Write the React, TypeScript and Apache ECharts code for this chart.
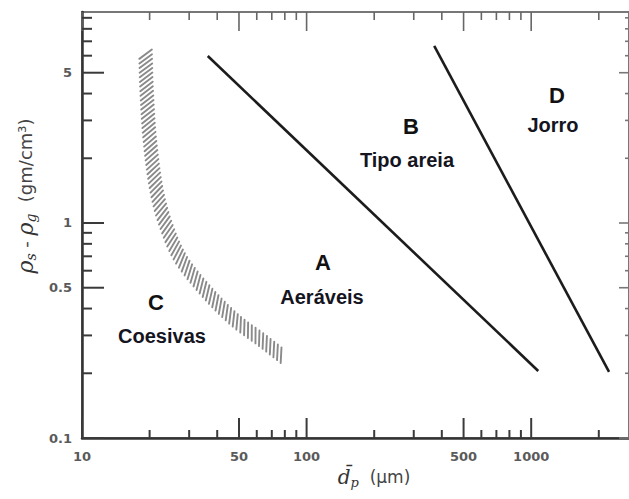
import React, { useEffect, useRef } from "react";
import * as echarts from "echarts";

// ---- data ----
const xMajorTicks = [10, 50, 100, 500, 1000];
const xTickLabels = ["10", "50", "100", "500", "1000"];
const xMinorTicks = [20, 30, 40, 60, 70, 80, 90, 200, 300, 400, 600, 700, 800, 900, 2000];
const yMajorTicks = [0.1, 0.5, 1, 5];
const yTickLabels = ["0.1", "0.5", "1", "5"];
const yMinorTicks = [0.2, 0.3, 0.4, 0.6, 0.7, 0.8, 0.9, 2, 3, 4, 6, 7, 8, 9];

// boundary A/B (straight line)
const lineAB = [
  [36.3, 5.98],
  [1075, 0.205],
];
// boundary B/D (straight line)
const lineBD = [
  [370, 6.66],
  [2222, 0.203],
];
// hatched boundary C/A (curved band)
const bandCA = [
  [19.19, 6.16],
  [19.4, 4.16],
  [20.05, 2.43],
  [21.48, 1.42],
  [23.79, 0.961],
  [27.74, 0.673],
  [36.4, 0.471],
  [47.9, 0.354],
  [62.9, 0.286],
  [78.5, 0.239],
];

const regionLetters = ["A", "B", "C", "D"];
const regionNames = ["Aeráveis", "Tipo areia", "Coesivas", "Jorro"];

// ---- layout ----
const X_MIN = 10;
const X_MAX = 2726;
const Y_MIN = 0.1;
const Y_MAX = 9.58;
const letterPos = [
  [323, 262],
  [411, 126],
  [156, 302],
  [557, 95],
];
const namePos = [
  [322, 297],
  [407, 160],
  [162, 336],
  [553, 125],
];

const SANS = "'Liberation Sans', Arial, sans-serif";
const TICK_FONT = "bold 13px 'DejaVu Sans', sans-serif";

function catmull(pts: number[][], steps: number): number[][] {
  const out: number[][] = [];
  for (let i = 0; i < pts.length - 1; i++) {
    const p0 = pts[Math.max(0, i - 1)];
    const p1 = pts[i];
    const p2 = pts[i + 1];
    const p3 = pts[Math.min(pts.length - 1, i + 2)];
    for (let k = 0; k < steps; k++) {
      const t = k / steps;
      const t2 = t * t;
      const t3 = t2 * t;
      const f = (a: number, b: number, c: number, d: number) =>
        0.5 * (2 * b + (-a + c) * t + (2 * a - 5 * b + 4 * c - d) * t2 + (-a + 3 * b - 3 * c + d) * t3);
      out.push([f(p0[0], p1[0], p2[0], p3[0]), f(p0[1], p1[1], p2[1], p3[1])]);
    }
  }
  out.push(pts[pts.length - 1]);
  return out;
}

export default function App() {
  const ref = useRef<HTMLDivElement>(null);

  useEffect(() => {
    if (!ref.current) return;
    const chart = echarts.init(ref.current, undefined, { renderer: "svg" });

    const xTickSeries = (values: number[], bottomLen: number, topLen: number, labels?: string[]) => ({
      type: "custom",
      coordinateSystem: "cartesian2d",
      silent: true,
      z: 5,
      data: values.map((v) => [v, 1]),
      renderItem: (params: any, api: any) => {
        const cs = params.coordSys;
        const p = api.coord([api.value(0), api.value(1)]);
        const x = p[0];
        const bottom = cs.y + cs.height;
        const top = cs.y;
        const children: any[] = [
          { type: "line", shape: { x1: x, y1: bottom, x2: x, y2: bottom - bottomLen }, style: { stroke: "#3a3a3a", lineWidth: 2 } },
          { type: "line", shape: { x1: x, y1: top, x2: x, y2: top + topLen }, style: { stroke: "#666", lineWidth: 1.6 } },
        ];
        if (labels) {
          children.push({
            type: "text",
            x: x,
            y: bottom + 18,
            style: {
              text: labels[params.dataIndex],
              font: TICK_FONT,
              fill: "#5a5a5a",
              textAlign: "center",
              textVerticalAlign: "middle",
              align: "center",
              verticalAlign: "middle",
            },
          });
        }
        return { type: "group", children };
      },
    });

    const yTickSeries = (values: number[], leftLen: number, rightLen: number, labels?: string[]) => ({
      type: "custom",
      coordinateSystem: "cartesian2d",
      silent: true,
      z: 5,
      data: values.map((v) => [100, v]),
      renderItem: (params: any, api: any) => {
        const cs = params.coordSys;
        const p = api.coord([api.value(0), api.value(1)]);
        const y = p[1];
        const left = cs.x;
        const right = cs.x + cs.width;
        const children: any[] = [
          { type: "line", shape: { x1: left, y1: y, x2: left + leftLen, y2: y }, style: { stroke: "#3a3a3a", lineWidth: 2 } },
          { type: "line", shape: { x1: right, y1: y, x2: right - rightLen, y2: y }, style: { stroke: "#777", lineWidth: 1.6 } },
        ];
        if (labels) {
          children.push({
            type: "text",
            x: left - 10,
            y: y,
            style: {
              text: labels[params.dataIndex],
              font: TICK_FONT,
              fill: "#5a5a5a",
              textAlign: "right",
              textVerticalAlign: "middle",
              align: "right",
              verticalAlign: "middle",
            },
          });
        }
        return { type: "group", children };
      },
    });

    const bandSeries = {
      type: "custom",
      coordinateSystem: "cartesian2d",
      silent: true,
      z: 3,
      data: bandCA,
      renderItem: (params: any, api: any) => {
        if (params.dataIndex !== 0) return null;
        const raw = bandCA.map((d) => api.coord(d));
        const pts = catmull(raw, 10);
        const spacing = 4.6;
        const half = 7.8;
        const ang = (35 * Math.PI) / 180;
        const c = Math.cos(ang);
        const s = Math.sin(ang);
        const children: any[] = [];
        let carry = 1;
        for (let i = 0; i < pts.length - 1; i++) {
          const [x1, y1] = pts[i];
          const [x2, y2] = pts[i + 1];
          const dx = x2 - x1;
          const dy = y2 - y1;
          const L = Math.hypot(dx, dy);
          if (L < 1e-6) continue;
          const tx = dx / L;
          const ty = dy / L;
          const nx = -ty;
          const ny = tx;
          const sx = c * nx + s * ny;
          const sy = -s * nx + c * ny;
          let d = carry;
          while (d <= L) {
            const cx = x1 + tx * d;
            const cy = y1 + ty * d;
            children.push({
              type: "line",
              shape: { x1: cx - sx * half, y1: cy - sy * half, x2: cx + sx * half, y2: cy + sy * half },
              style: { stroke: "#8a8a8a", lineWidth: 1.9, lineCap: "round" },
            });
            d += spacing;
          }
          carry = d - L;
        }
        return { type: "group", children };
      },
    };

    const graphics: any[] = [];
    regionLetters.forEach((t, i) => {
      graphics.push({
        type: "text",
        x: letterPos[i][0],
        y: letterPos[i][1],
        style: { text: t, font: `bold 22px ${SANS}`, fill: "#111", textAlign: "center", textVerticalAlign: "middle", align: "center", verticalAlign: "middle" },
      });
    });
    regionNames.forEach((t, i) => {
      graphics.push({
        type: "text",
        x: namePos[i][0],
        y: namePos[i][1],
        style: { text: t, font: `bold 20px ${SANS}`, fill: "#15151f", textAlign: "center", textVerticalAlign: "middle", align: "center", verticalAlign: "middle" },
      });
    });
    // y axis name
    graphics.push({
      type: "text",
      x: 25,
      y: 196,
      rotation: Math.PI / 2,
      style: {
        text: "{r|ρ}{s|s}{t| - }{r|ρ}{s|g}{t|  (gm/cm³)}",
        textAlign: "center",
        textVerticalAlign: "middle",
        align: "center",
        verticalAlign: "middle",
        rich: {
          r: { fontFamily: "'DejaVu Serif', serif", fontStyle: "italic", fontSize: 22, fill: "#333", color: "#333", lineHeight: 26, verticalAlign: "middle" },
          s: { fontFamily: "'DejaVu Serif', serif", fontStyle: "italic", fontSize: 14, fill: "#333", color: "#333", lineHeight: 14, verticalAlign: "bottom" },
          t: { fontFamily: "'DejaVu Sans', sans-serif", fontSize: 18, fill: "#444", color: "#444", lineHeight: 26, verticalAlign: "middle" },
        },
      },
    });
    // x axis name
    graphics.push({
      type: "text",
      x: 374,
      y: 477,
      style: {
        text: "{d|d\u0304}{s|p}{t|  (μm)}",
        textAlign: "center",
        textVerticalAlign: "middle",
        align: "center",
        verticalAlign: "middle",
        rich: {
          d: { fontFamily: "'DejaVu Serif', serif", fontStyle: "italic", fontSize: 20, fill: "#333", color: "#333", lineHeight: 24, verticalAlign: "middle" },
          s: { fontFamily: "'DejaVu Serif', serif", fontStyle: "italic", fontSize: 13, fill: "#333", color: "#333", lineHeight: 13, verticalAlign: "bottom" },
          t: { fontFamily: "'DejaVu Sans', sans-serif", fontSize: 17, fill: "#444", color: "#444", lineHeight: 24, verticalAlign: "middle" },
        },
      },
    });

    chart.setOption({
      animation: false,
      backgroundColor: "#fff",
      grid: {
        left: 82,
        top: 12,
        width: 548,
        height: 426,
        show: true,
        borderColor: "#777",
        borderWidth: 2,
        backgroundColor: "transparent",
      },
      xAxis: {
        type: "log",
        logBase: 10,
        min: X_MIN,
        max: X_MAX,
        axisLine: { show: true, lineStyle: { color: "#333", width: 2.5 } },
        axisTick: { show: false },
        axisLabel: { show: false },
        splitLine: { show: false },
      },
      yAxis: {
        type: "log",
        logBase: 10,
        min: Y_MIN,
        max: Y_MAX,
        axisLine: { show: true, lineStyle: { color: "#333", width: 2.5 } },
        axisTick: { show: false },
        axisLabel: { show: false },
        splitLine: { show: false },
      },
      series: [
        bandSeries,
        {
          type: "line",
          data: lineAB,
          symbol: "none",
          lineStyle: { color: "#1c1c1c", width: 2.6 },
          silent: true,
          z: 4,
        },
        {
          type: "line",
          data: lineBD,
          symbol: "none",
          lineStyle: { color: "#1c1c1c", width: 2.6 },
          silent: true,
          z: 4,
        },
        xTickSeries(xMajorTicks, 20, 19, xTickLabels),
        xTickSeries(xMinorTicks, 8, 8),
        yTickSeries(yMajorTicks, 22, 10, yTickLabels),
        yTickSeries(yMinorTicks, 10, 4),
      ],
      graphic: graphics,
    });

    return () => chart.dispose();
  }, []);

  return (
    <div
      ref={ref}
      style={{ position: "absolute", left: 0, top: 0, width: 629, height: 499, background: "#fff" }}
    />
  );
}
